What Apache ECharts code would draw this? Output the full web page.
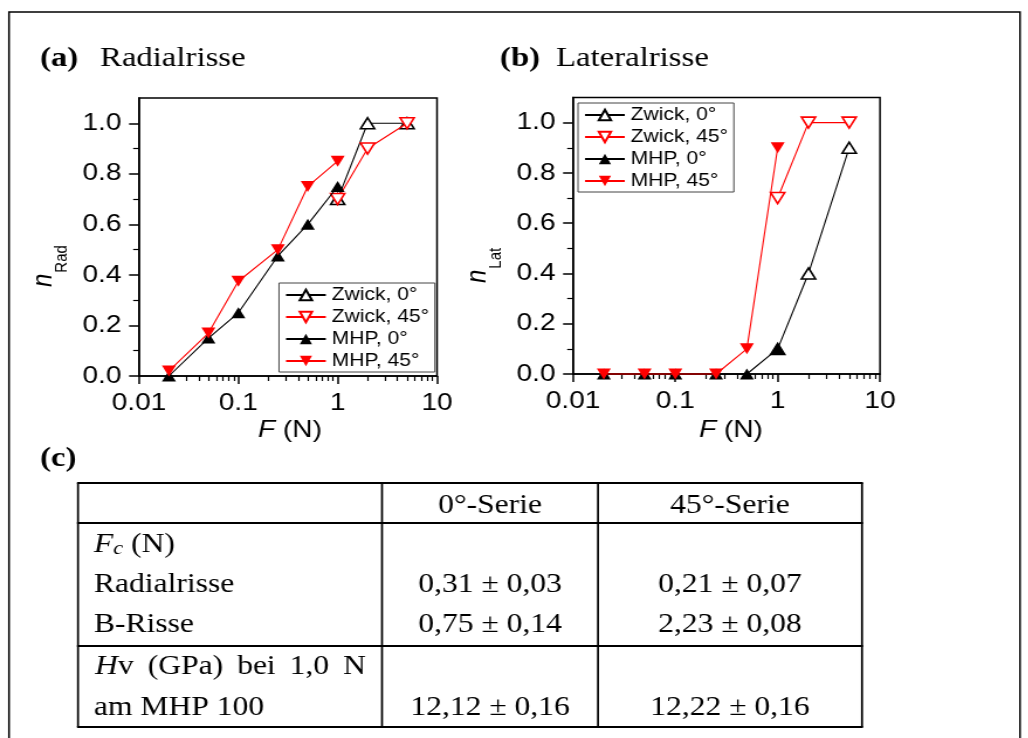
<!DOCTYPE html>
<html>
<head>
<meta charset="utf-8">
<script src="https://cdn.jsdelivr.net/npm/echarts@6/dist/echarts.min.js"></script>
<style>
  html, body { margin: 0; padding: 0; background: #fff; overflow: hidden; }
  /* the figure is laid out on a narrower canvas and widened horizontally */
  #chart { width: 879px; height: 738px; transform: scaleX(1.17); transform-origin: 0 0; }
</style>
</head>
<body>
<div id="chart"></div>
<script>
// ---- data -------------------------------------------------------------
// applied indentation loads F (N)
const loadsMHP = [0.02, 0.05, 0.1, 0.25, 0.5, 1];
const loadsZwick = [1, 2, 5];

// (a) fraction of indents showing radial cracks, n_Rad
const radZwick0 = [0.7, 1.0, 1.0];
const radZwick45 = [0.7, 0.9, 1.0];
const radMHP0 = [0.0, 0.15, 0.25, 0.475, 0.6, 0.75];
const radMHP45 = [0.02, 0.17, 0.375, 0.5, 0.75, 0.85];

// (b) fraction of indents showing lateral cracks, n_Lat
const latZwick0 = [0.1, 0.4, 0.9];
const latZwick45 = [0.7, 1.0, 1.0];
const latMHP0 = [0, 0, 0, 0, 0, 0.1];
const latMHP45 = [0, 0, 0, 0, 0.1, 0.9];

const seriesNames = ['Zwick, 0°', 'Zwick, 45°', 'MHP, 0°', 'MHP, 45°'];

// axis ticks
const yTickValues = [0, 0.2, 0.4, 0.6, 0.8, 1.0];
const yMinorValues = [0.1, 0.3, 0.5, 0.7, 0.9];
const xMinorValues = [0.02, 0.03, 0.04, 0.05, 0.06, 0.07, 0.08, 0.09,
                      0.2, 0.3, 0.4, 0.5, 0.6, 0.7, 0.8, 0.9,
                      2, 3, 4, 5, 6, 7, 8, 9];

// (c) table
const tableHeader = ['0°-Serie', '45°-Serie'];
const rowRadial = ['Radialrisse', '0,31 ± 0,03', '0,21 ± 0,07'];
const rowB = ['B-Risse', '0,75 ± 0,14', '2,23 ± 0,08'];
const rowHvLabel = ['(GPa)', 'bei', '1,0', 'N'];
const rowHv = ['am MHP 100', '12,12 ± 0,16', '12,22 ± 0,16'];

// ---- layout helpers ---------------------------------------------------
const SX = 1.17;                  // horizontal widening of the page
const X = px => px / SX;          // page x -> canvas x
const SANS = '"Liberation Sans", Arial, sans-serif';
const SERIF = '"Liberation Serif", "Times New Roman", serif';

const measureCtx = document.createElement('canvas').getContext('2d');
function tw(str, font) { measureCtx.font = font; return measureCtx.measureText(str).width; }

function txt(x, y, text, font, extra) {
  return {
    type: 'text', x: x, y: y, silent: true,
    style: Object.assign({ text: text, font: font, fill: '#000', align: 'left', verticalAlign: 'middle' }, extra || {})
  };
}
// consecutive text pieces (italic letters, subscripts) on one line
function run(x, y, parts) {
  const out = [];
  let cx = x;
  parts.forEach(p => {
    out.push(txt(cx, y + (p.dy || 0), p.text, p.font));
    cx += tw(p.text, p.font);
  });
  return { els: out, width: cx - x };
}
function runWidth(parts) { return parts.reduce((s, p) => s + tw(p.text, p.font), 0); }
function hline(x1, x2, y, w) {
  return { type: 'line', silent: true, shape: { x1: x1, y1: y, x2: x2, y2: y }, style: { stroke: '#000', lineWidth: w } };
}
function vline(x, y1, y2, w) {
  return { type: 'line', silent: true, shape: { x1: x, y1: y1, x2: x, y2: y2 }, style: { stroke: '#000', lineWidth: w } };
}
const pairs = (xs, ys) => xs.map((x, i) => [x, ys[i]]);

// ---- graphic: frame, panel titles, axis titles, table -----------------
const g = [];
g.push({ type: 'rect', silent: true, shape: { x: X(9), y: 12, width: X(1020) - X(9), height: 800 },
         style: { fill: 'none', stroke: '#000', lineWidth: 1.5 } });

const fTitleB = 'bold 28px ' + SERIF;
const fTitle = '28px ' + SERIF;
g.push(txt(X(40), 58.5, '(a)', fTitleB));
g.push(txt(X(100), 58.5, 'Radialrisse', fTitle));
g.push(txt(X(500), 58.5, '(b)', fTitleB));
g.push(txt(X(556), 58.5, 'Lateralrisse', fTitle));
g.push(txt(X(40), 458.5, '(c)', fTitleB));

// rotated y-axis titles n_Rad / n_Lat
function yTitle(baseX, startY, sub) {
  const fN = 'italic 24px ' + SANS, fS = '15px ' + SANS;
  const wn = tw('n', fN);
  return {
    type: 'group', x: baseX, y: startY, rotation: Math.PI / 2, silent: true,
    children: [
      txt(0, -0.35 * 24, 'n', fN),
      txt(wn + 1, 12 - 0.35 * 15, sub, fS)
    ]
  };
}
g.push(yTitle(X(54), 287, 'Rad'));
g.push(yTitle(X(488), 283, 'Lat'));

// x-axis titles F (N)
function xTitle(centerX, y) {
  const parts = [{ text: 'F', font: 'italic 24px ' + SANS }, { text: ' (N)', font: '24px ' + SANS }];
  return run(centerX - runWidth(parts) / 2, y, parts).els;
}
g.push(...xTitle(X(290), 430));
g.push(...xTitle(X(731), 430));

// table grid
const T = { left: X(78), c1: X(382), c2: X(598), right: X(862), top: 483, head: 523, mid: 646, bottom: 727 };
[T.top, T.head, T.mid, T.bottom].forEach(y => g.push(hline(T.left - 0.85, T.right + 0.85, y, 2)));
[T.left, T.c1, T.c2, T.right].forEach(x => g.push(vline(x, T.top, T.bottom, 1.7)));

const fCell = '27px ' + SERIF, fCellI = 'italic 27px ' + SERIF;
const col1X = X(94), col2C = X(490), col3C = X(730);
const center = { align: 'center' };
g.push(txt(col2C, 506, tableHeader[0], fCell, center));
g.push(txt(col3C, 506, tableHeader[1], fCell, center));

g.push(...run(col1X, 545, [
  { text: 'F', font: fCellI },
  { text: 'c', font: 'italic 19px ' + SERIF, dy: 4 },
  { text: ' (N)', font: fCell }
]).els);

[[rowRadial, 585], [rowB, 625], [rowHv, 708]].forEach(([row, y]) => {
  g.push(txt(col1X, y, row[0], fCell));
  g.push(txt(col2C, y, row[1], fCell, center));
  g.push(txt(col3C, y, row[2], fCell, center));
});

// justified first line of the hardness row
(function () {
  const hvParts = [{ text: 'H', font: fCellI }, { text: 'v', font: fCell }];
  const words = [hvParts].concat(rowHvLabel.map(w => [{ text: w, font: fCell }]));
  const widths = words.map(runWidth);
  const x0 = X(95), x1 = X(366);
  const gap = (x1 - x0 - widths.reduce((a, b) => a + b, 0)) / (words.length - 1);
  let cx = x0;
  words.forEach((w, i) => { g.push(...run(cx, 667, w).els); cx += widths[i] + gap; });
})();

// ---- axes -------------------------------------------------------------
const black = '#000';
function xAxes(grid) {
  return [
    { type: 'log', logBase: 10, gridIndex: grid, min: 0.01, max: 10, position: 'bottom',
      axisLine: { lineStyle: { color: black, width: 1.5 } },
      axisTick: { length: 8, lineStyle: { color: black, width: 1.5 } },
      axisLabel: { fontFamily: SANS, fontSize: 24, color: black, margin: 15 },
      splitLine: { show: false } },
    { type: 'log', logBase: 10, gridIndex: grid, min: 0.01, max: 10, position: 'bottom',
      axisLine: { show: false },
      axisTick: { customValues: xMinorValues, length: 5, lineStyle: { color: black, width: 1.2 } },
      axisLabel: { show: false }, splitLine: { show: false } }
  ];
}
function yAxes(grid) {
  return [
    { type: 'value', gridIndex: grid, min: 0, max: 1.1, position: 'left',
      axisLine: { show: true, lineStyle: { color: black, width: 1.5 } },
      axisTick: { show: true, customValues: yTickValues, length: 8.5, lineStyle: { color: black, width: 1.5 } },
      axisLabel: { customValues: yTickValues, fontFamily: SANS, fontSize: 24, color: black, margin: 15,
                   formatter: v => v.toFixed(1) },
      splitLine: { show: false } },
    { type: 'value', gridIndex: grid, min: 0, max: 1.1, position: 'left',
      axisLine: { show: false },
      axisTick: { show: true, customValues: yMinorValues, length: 5, lineStyle: { color: black, width: 1.2 } },
      axisLabel: { show: false }, splitLine: { show: false } }
  ];
}

// ---- series -----------------------------------------------------------
const styles = [
  { color: '#000', open: true, down: false },
  { color: '#ff0000', open: true, down: true },
  { color: '#000', open: false, down: false },
  { color: '#ff0000', open: false, down: true }
];
function makeSeries(grid, sets) {
  return sets.map((s, i) => {
    const st = styles[i];
    return {
      name: seriesNames[i], type: 'line', xAxisIndex: grid * 2, yAxisIndex: grid * 2,
      data: pairs(s[0], s[1]), clip: false,
      symbol: 'triangle', symbolRotate: st.down ? 180 : 0, symbolSize: [12, 11],
      lineStyle: { color: st.color, width: 1.1 },
      itemStyle: st.open
        ? { color: '#fff', borderColor: st.color, borderWidth: 1.6, opacity: 1 }
        : { color: st.color, borderColor: st.color, borderWidth: 0, opacity: 1 },
      emphasis: { disabled: true }, z: 2 + i
    };
  });
}
const series = [].concat(
  makeSeries(0, [[loadsZwick, radZwick0], [loadsZwick, radZwick45], [loadsMHP, radMHP0], [loadsMHP, radMHP45]]),
  makeSeries(1, [[loadsZwick, latZwick0], [loadsZwick, latZwick45], [loadsMHP, latMHP0], [loadsMHP, latMHP45]])
);

function legend(left, top) {
  return {
    data: seriesNames, orient: 'vertical', left: left, top: top, selectedMode: false,
    itemWidth: 34, itemHeight: 13, itemGap: 4, padding: [3, 5, 2, 5],
    borderColor: '#444', borderWidth: 1, backgroundColor: '#fff',
    textStyle: { fontFamily: SANS, fontSize: 18, color: '#000', lineHeight: 14 }
  };
}

const option = {
  animation: false,
  backgroundColor: '#fff',
  grid: [
    { left: X(139), top: 98, width: X(437) - X(139), height: 278, show: true,
      borderColor: black, borderWidth: 1.5, backgroundColor: 'transparent' },
    { left: X(573), top: 97.5, width: X(880) - X(573), height: 276.5, show: true,
      borderColor: black, borderWidth: 1.5, backgroundColor: 'transparent' }
  ],
  xAxis: xAxes(0).concat(xAxes(1)),
  yAxis: yAxes(0).concat(yAxes(1)),
  legend: [legend(X(279), 283), legend(X(578), 103)],
  series: series,
  graphic: { elements: g }
};

const chart = echarts.init(document.getElementById('chart'), null, { renderer: 'canvas' });
chart.setOption(option);
</script>
</body>
</html>
